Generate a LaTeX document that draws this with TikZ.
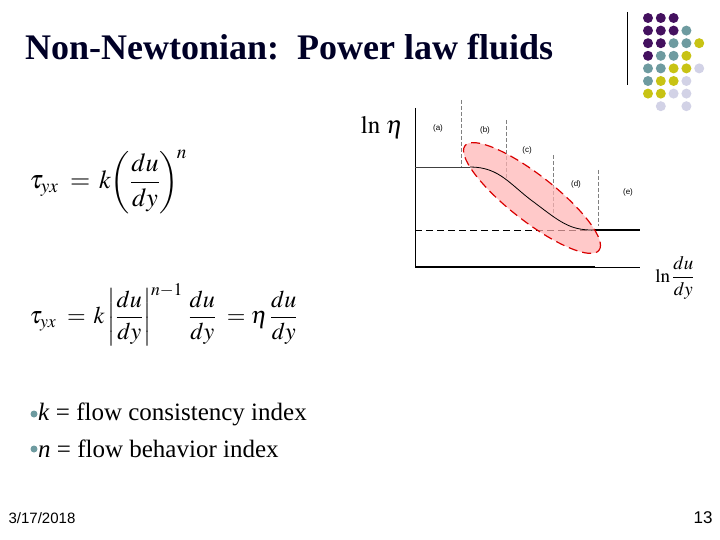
\documentclass[tikz,border=0pt]{standalone}
\usepackage{amsmath}
\usepackage{mathptmx}
\usepackage[no-math]{fontspec}
\setmainfont{Liberation Serif}
\newfontfamily\sansf{Liberation Sans}
\usetikzlibrary{shapes.geometric}
\begin{document}
\begin{tikzpicture}[x=1pt,y=-1pt,
  lbl/.style={font=\fontsize{8}{9}\selectfont\sansf, inner sep=0},
  dv/.style={gray, thin, dash pattern=on 4pt off 2pt},
  dot/.style={circle, inner sep=0, minimum size=10pt}]
\useasboundingbox (0,0) rectangle (720,540);
\definecolor{P}{RGB}{68,17,95}
\definecolor{T}{RGB}{110,155,160}
\definecolor{Y}{RGB}{200,195,20}
\definecolor{L}{RGB}{210,210,230}
\def\nn{N}
\node[font=\bfseries\fontsize{36}{40}\selectfont, anchor=west, inner sep=0, text=black!85!blue] (title) at (25,47) {Non-Newtonian:\ \ Power law fluids};
\draw (627,12) -- (627,85);
\foreach \row [count=\r from 0] in {{P,P,P,N,N},{P,P,P,T,N},{P,P,T,T,Y},{P,T,T,Y,N},{T,T,Y,Y,L},{T,Y,Y,L,N},{Y,Y,L,L,N},{N,L,N,L,N}}{
  \foreach \c [count=\k from 0] in \row {
    \ifx\c\nn\else
    \node[dot, fill=\c] (d\r\k) at ({648+\k*12.8},{18+\r*12.6}) {};
    \fi}}
% chart
\draw[thick] (415,108) coordinate (ytop) -- (415,267) coordinate (orig);
\draw[very thick] (orig) -- (595,267) coordinate (b1);
\draw[thin] (b1) -- (640,267) coordinate (b2);
\draw[thick, dash pattern=on 7pt off 4pt] (415,230) coordinate (dl) -- (592,230) coordinate (dr);
\draw[very thick] (dr) -- (640,230) coordinate (er);
\draw[dv] (461,100) coordinate (v1a) -- (461,167) coordinate (v1b);
\draw[dv, thick] (506,120) coordinate (v2a) -- (506,178) coordinate (v2b);
\draw[dv, thick] (553,155) coordinate (v3a) -- (553,213) coordinate (v3b);
\draw[dv] (598,170) coordinate (v4a) -- (598,226) coordinate (v4b);
\node[draw=red!85!black, fill=red!30, fill opacity=0.7, draw opacity=1, very thick, dash pattern=on 9pt off 5pt, ellipse, minimum width=170pt, minimum height=46pt, rotate=-38] (ell) at (532,198) {};
\draw[thick, black!75] (415,167) coordinate (pl) -- (470,167) coordinate (c0);
\draw[thick] (c0)
  .. controls (500,167) and (510,185) .. (535,203) coordinate (cm)
  .. controls (560,222) and (570,230) .. (dr);
\node[lbl] (la) at (438,128) {(a)};
\node[lbl] (lb) at (485,130) {(b)};
\node[lbl] (lc) at (527,150) {(c)};
\node[lbl] (ld) at (576,184) {(d)};
\node[lbl] (le) at (628,192) {(e)};
\node[font=\fontsize{25}{27}\selectfont] (eta) at (382,128) {$\ln\,\eta$};
\node[font=\fontsize{19}{21}\selectfont] (shr) at (675,278) {$\ln\dfrac{du}{dy}$};
% equations
\node[font=\fontsize{26}{28}\selectfont, anchor=west] (eq1) at (26,182) {$\tau_{yx}\;=\,k\!\left(\dfrac{du}{dy}\right)^{\!n}$};
\node[font=\fontsize{24}{26}\selectfont, anchor=west] (eq2) at (26,315) {$\tau_{yx}\;=\,k\left|\dfrac{du}{dy}\right|^{n-1}\,\dfrac{du}{dy}\;=\eta\,\dfrac{du}{dy}$};
\node[dot, minimum size=7pt, fill=T] (bu1) at (34,414) {};
\node[dot, minimum size=7pt, fill=T] (bu2) at (34,449) {};
\node[anchor=west, font=\fontsize{25}{28}\selectfont, inner sep=0] (t1) at (38,414) {\textit{k} = flow consistency index};
\node[anchor=west, font=\fontsize{25}{28}\selectfont, inner sep=0] (t2) at (38,449) {\textit{n} = flow behavior index};
\node[font=\fontsize{15}{17}\selectfont\sansf] (date) at (42,518) {3/17/2018};
\node[font=\fontsize{17}{19}\selectfont\sansf] (pg) at (703,518) {13};
\end{tikzpicture}
\end{document}
